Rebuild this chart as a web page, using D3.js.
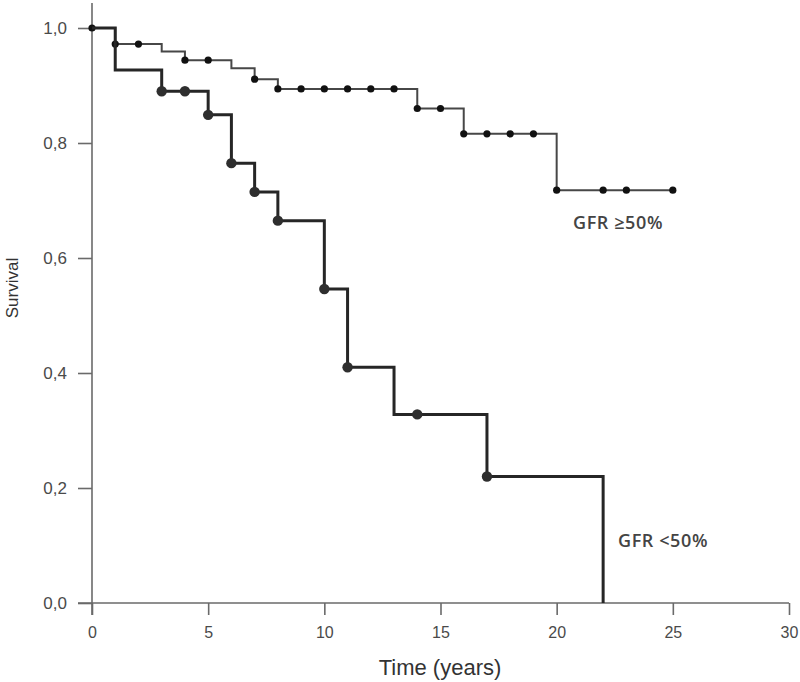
<!DOCTYPE html>
<html lang="en">
<head>
    <meta charset="UTF-8">
    <title>Survival by GFR</title>
    <script src="https://cdn.jsdelivr.net/npm/d3@7"></script>
</head>
<body style="margin: 0px; background: #fff;">
<script>
    // Kaplan-Meier steps
    var upperTimes = [0, 1, 3, 4, 6, 7, 8, 14, 16, 20, 25];
    var upperSurv = [1.0, 0.972, 0.959, 0.944, 0.930, 0.911, 0.894, 0.860, 0.816, 0.718, 0.718];
    var upperCensor = [0, 1, 2, 4, 5, 7, 8, 9, 10, 11, 12, 13, 14, 15, 16, 17, 18, 19, 20, 22, 23, 25];

    var lowerTimes = [0, 1, 3, 5, 6, 7, 8, 10, 11, 13, 17, 22];
    var lowerSurv = [1.0, 0.927, 0.890, 0.849, 0.765, 0.715, 0.665, 0.546, 0.410, 0.328, 0.220, 0.0];
    var lowerCensor = [3, 4, 5, 6, 7, 8, 10, 11, 14, 17];

    var xTicks = [0, 5, 10, 15, 20, 25, 30];
    var yTicks = [0, 0.2, 0.4, 0.6, 0.8, 1.0];

    var width = 800, height = 682;
    var svg = d3.select('body').append('svg')
            .attr('width', width)
            .attr('height', height);

    var x = d3.scaleLinear().domain([0, 30]).range([92, 789]);
    var y = d3.scaleLinear().domain([0, 1]).range([603, 28]);

    var axisColor = '#6a6a6a';
    var font = 'Liberation Sans, Arial, sans-serif';

    // y axis
    var yAxis = svg.append('g')
            .attr('transform', 'translate(' + x(0) + ',0)')
            .call(d3.axisLeft(y).tickValues(yTicks).tickSize(14).tickSizeOuter(0)
                    .tickFormat(function (d) { return d.toFixed(1).replace('.', ','); }));
    yAxis.select('.domain').remove();
    yAxis.selectAll('line').attr('stroke', axisColor).attr('stroke-width', 1.6);
    yAxis.selectAll('text')
            .attr('x', -25)
            .attr('fill', '#4a4a4a')
            .style('font-family', font)
            .style('font-size', '17px');
    svg.append('line')
            .attr('x1', x(0)).attr('x2', x(0))
            .attr('y1', y(0) + 12).attr('y2', y(1) - 25)
            .attr('stroke', axisColor).attr('stroke-width', 1.6);

    // x axis
    var xAxis = svg.append('g')
            .attr('transform', 'translate(0,' + y(0) + ')')
            .call(d3.axisBottom(x).tickValues(xTicks).tickSize(12).tickSizeOuter(0));
    xAxis.select('.domain').remove();
    xAxis.selectAll('line').attr('stroke', axisColor).attr('stroke-width', 1.6);
    xAxis.selectAll('text')
            .attr('y', 24)
            .attr('fill', '#4a4a4a')
            .style('font-family', font)
            .style('font-size', '16px');
    svg.append('line')
            .attr('x1', x(0) - 14).attr('x2', x(30))
            .attr('y1', y(0)).attr('y2', y(0))
            .attr('stroke', axisColor).attr('stroke-width', 1.6);

    // axis titles
    svg.append('text')
            .attr('x', 440)
            .attr('y', 675)
            .attr('text-anchor', 'middle')
            .attr('fill', '#333')
            .style('font-family', font)
            .style('font-size', '22px')
            .text('Time (years)');
    svg.append('text')
            .attr('transform', 'translate(18,288) rotate(-90)')
            .attr('text-anchor', 'middle')
            .attr('fill', '#333')
            .style('font-family', font)
            .style('font-size', '17px')
            .text('Survival');

    function survAt(times, surv, t) {
        var i = d3.bisectRight(times, t) - 1;
        return surv[Math.max(0, i)];
    }

    var stepLine = d3.line()
            .x(function (d) { return x(d[0]); })
            .y(function (d) { return y(d[1]); })
            .curve(d3.curveStepAfter);

    var series = [
        {times: upperTimes, surv: upperSurv, censor: upperCensor, stroke: '#474747', sw: 2, r: 3.6, fill: '#111'},
        {times: lowerTimes, surv: lowerSurv, censor: lowerCensor, stroke: '#262626', sw: 3, r: 5.2, fill: '#2e2e2e'}
    ];

    series.forEach(function (s) {
        var pts = s.times.map(function (t, i) { return [t, s.surv[i]]; });
        svg.append('path')
                .datum(pts)
                .attr('d', stepLine)
                .attr('fill', 'none')
                .attr('stroke', s.stroke)
                .attr('stroke-width', s.sw);
        svg.append('g').selectAll('circle')
                .data(s.censor)
                .enter().append('circle')
                .attr('cx', function (d) { return x(d); })
                .attr('cy', function (d) { return y(survAt(s.times, s.surv, d)); })
                .attr('r', s.r)
                .attr('fill', s.fill);
    });

    // group labels
    svg.append('text')
            .attr('x', 573)
            .attr('y', 229)
            .attr('fill', '#444')
            .style('font-family', 'Open Sans, sans-serif')
            .style('font-weight', 600)
            .style('font-size', '18px')
            .style('letter-spacing', '0.6px')
            .text('GFR \u226550%');
    svg.append('text')
            .attr('x', 618)
            .attr('y', 547)
            .attr('fill', '#444')
            .style('font-family', 'Open Sans, sans-serif')
            .style('font-weight', 600)
            .style('font-size', '18px')
            .style('letter-spacing', '0.6px')
            .text('GFR <50%');
</script>
</body>
</html>
